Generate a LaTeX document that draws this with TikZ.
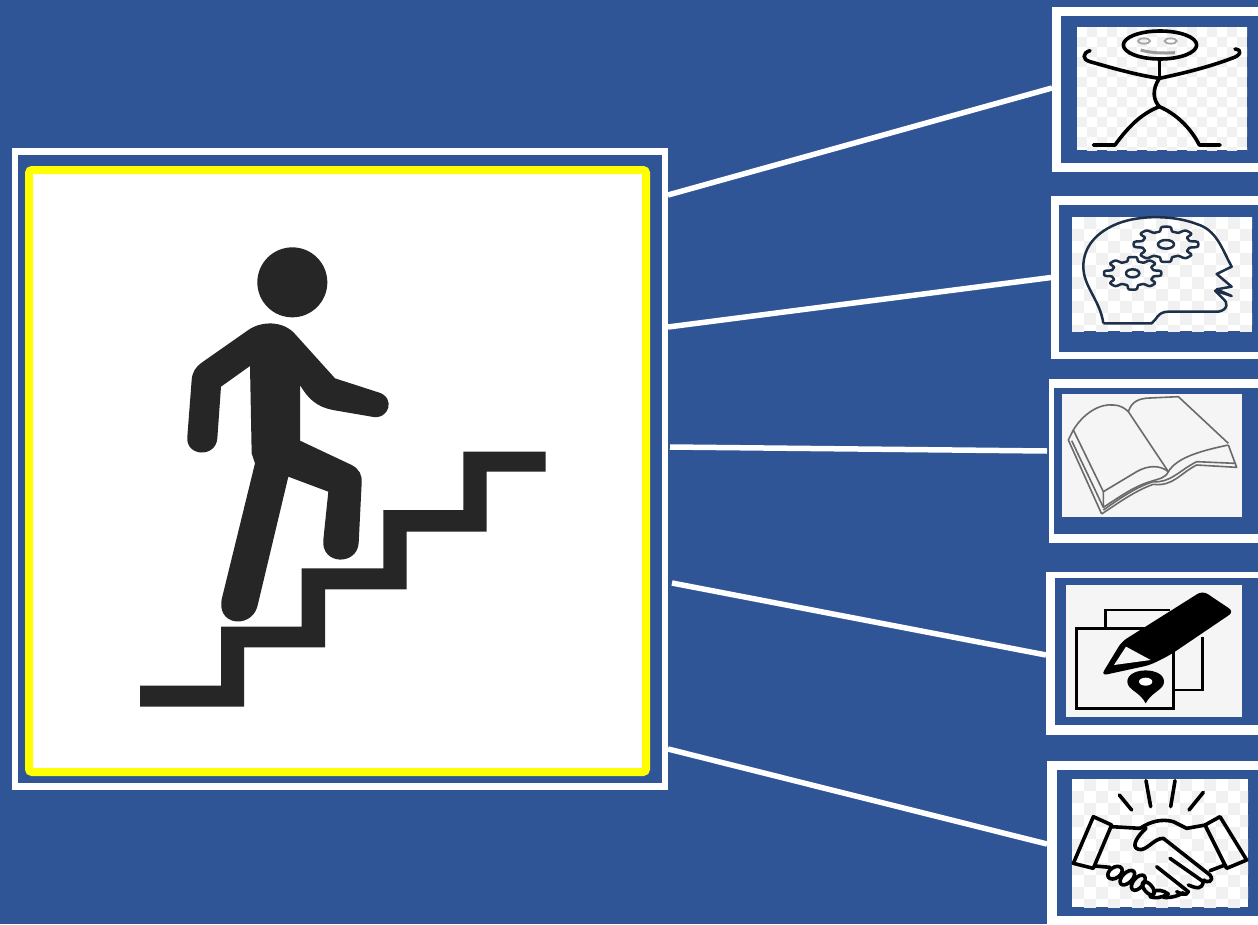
\documentclass[tikz,border=0pt]{standalone}
\definecolor{bgblue}{HTML}{2F5597}
\definecolor{figblack}{HTML}{262626}
\definecolor{chk}{HTML}{F1F1F1}
\definecolor{headline}{HTML}{1E3048}
\definecolor{bookline}{HTML}{6A6A6A}
\definecolor{frameyellow}{RGB}{255,255,0}
\newcommand{\checkfill}[5]{% x0 y0 x1 y1 size (in px)
  \begin{scope}
    \clip (#1pt,-#2pt) rectangle (#3pt,-#4pt);
    \foreach \i in {0,...,45}{\foreach \j in {0,...,32}{
      \pgfmathparse{int(mod(\i+\j,2))}
      \ifnum\pgfmathresult=1
        \fill[chk] ({#1pt+\i*#5pt},{-#2pt-\j*#5pt}) rectangle ++(#5pt,-#5pt);
      \fi
    }}
  \end{scope}}
\tikzset{
  frameW/.style={fill=white,draw=none,rectangle,inner sep=0pt,outer sep=0pt,anchor=north west},
  frameB/.style={fill=bgblue,draw=none,rectangle,inner sep=0pt,outer sep=0pt,anchor=north west},
  frameI/.style={fill=white,draw=none,rectangle,inner sep=0pt,outer sep=0pt,anchor=north west},
  conn/.style={draw=white,line width=5.5pt},
  zoomA/.style={shift={(1040pt,0pt)},x=0.33333pt,y=-0.33333pt},
  zoomB/.style={shift={(1040pt,-370pt)},x=0.33333pt,y=-0.33333pt},
  zoomC/.style={shift={(1040pt,-750pt)},x=0.33333pt,y=-0.33333pt},
  zoomM/.style={shift={(120pt,-230pt)},x=0.33333pt,y=-0.33333pt},
  stick/.style={draw=black,line width=3.6pt,line cap=round,line join=round},
  headstroke/.style={draw=headline,line width=2.5pt,line join=round},
  bookstroke/.style={draw=bookline,line width=1.6pt,line join=round},
  shake/.style={draw=black,line width=3.6pt,line join=round,line cap=round},
}
\begin{document}
\begin{tikzpicture}[x=1pt,y=1pt]
\useasboundingbox (0,0) rectangle (1258,-924);
\clip (0,0) rectangle (1258,-924);
\fill[bgblue] (0,0) rectangle (1258,-924);

% main panel
\node[frameW,minimum width=656.5pt,minimum height=642pt] (main) at (11.5,-148) {};
\node[frameB,minimum width=644pt,minimum height=628pt] (mainblue) at (18,-155) {};
\node[frameI,draw=frameyellow,line width=8pt,rounded corners=3pt,minimum width=617pt,minimum height=602pt] (mainimg) at (29,-170) {};

% small panels
\node[frameW,minimum width=240pt,minimum height=165pt] (p1) at (1052,-7) {};
\node[frameB,minimum width=230pt,minimum height=147pt] (p1b) at (1061,-16) {};
\node[frameI,minimum width=170pt,minimum height=123pt] (p1i) at (1077,-27) {};
\node[frameW,minimum width=240pt,minimum height=163pt] (p2) at (1051,-196) {};
\node[frameB,minimum width=230pt,minimum height=147pt] (p2b) at (1059,-205) {};
\node[frameI,minimum width=180pt,minimum height=114pt] (p2i) at (1072,-217) {};
\node[frameW,minimum width=240pt,minimum height=164pt] (p3) at (1049,-379) {};
\node[frameB,minimum width=230pt,minimum height=146pt] (p3b) at (1054,-388) {};
\node[frameI,fill=black!4,minimum width=180pt,minimum height=123pt] (p3i) at (1062,-394) {};
\node[frameW,minimum width=240pt,minimum height=163pt] (p4) at (1046,-572) {};
\node[frameB,minimum width=230pt,minimum height=147pt] (p4b) at (1055,-578) {};
\node[frameI,fill=black!4,minimum width=176pt,minimum height=132pt] (p4i) at (1066,-585) {};
\node[frameW,minimum width=240pt,minimum height=166pt] (p5) at (1047,-761) {};
\node[frameB,minimum width=230pt,minimum height=146pt] (p5b) at (1057,-770) {};
\node[frameI,minimum width=176pt,minimum height=128pt] (p5i) at (1072,-779) {};

% connectors
\draw[conn] ([yshift=-47pt]main.north east) -- ([yshift=1.5pt]p1.west);
\draw[conn] ([yshift=-179pt]main.north east) -- (p2.west);
\draw[conn] ([xshift=2pt,yshift=-299pt]main.north east) -- ([xshift=-2pt,yshift=10pt]p3.west);
\draw[conn] ([xshift=4pt,yshift=-435pt]main.north east) -- ([yshift=-1.5pt]p4.west);
\draw[conn] ([yshift=-601pt]main.north east) -- (p5.west);

% climbing figure and stairs
\begin{scope}[zoomM]
  \fill[figblack] (517,157) ellipse (105 and 105);
  \fill[figblack] (60,1367) -- (303,1367) -- (303,1190) -- (545,1190) -- (545,1015) -- (790,1015) -- (790,840) -- (1030,840) -- (1030,665) -- (1277,665) -- (1277,725) -- (1100,725) -- (1100,905) -- (860,905) -- (860,1078) -- (615,1078) -- (615,1252) -- (372,1252) -- (372,1430) -- (60,1430) -- cycle;
  \fill[figblack] (390,408) -- (303,470) -- (292,625)
    .. controls (287,685) and (196,680) .. (202,620)
    -- (215,450) .. controls (217,425) and (228,410) .. (245,398)
    -- (385,300) .. controls (425,272) and (490,272) .. (525,312)
    -- (645,445) -- (775,487)
    .. controls (828,502) and (808,572) .. (755,560)
    -- (650,542) .. controls (610,535) and (575,525) .. (540,465)
    -- (540,632) -- (695,705)
    .. controls (718,717) and (727,735) .. (725,760)
    -- (716,940) .. controls (710,1008) and (603,1005) .. (610,930)
    -- (625,785) -- (505,740) -- (412,1130)
    .. controls (393,1198) and (283,1188) .. (307,1100)
    -- (405,700) -- (395,670) -- cycle;
\end{scope}

% icon 1: stick figure
\checkfill{1077}{27}{1247}{150}{10}
\begin{scope}[zoomA]
  \draw[stick] (360,135) ellipse (110 and 42);
  \draw[stick] (358,180) -- (358,235);
  \draw[stick] (150,152) .. controls (128,158) and (125,178) .. (150,185) .. controls (220,205) and (290,225) .. (358,235) .. controls (430,220) and (510,200) .. (575,175) .. controls (600,168) and (610,150) .. (585,147);
  \draw[stick] (358,235) .. controls (335,270) and (340,300) .. (358,320);
  \draw[stick] (160,435) -- (225,435) .. controls (265,380) and (305,340) .. (358,320) .. controls (405,340) and (450,380) .. (478,435) -- (540,435);
  \draw[gray!70,line width=1.8pt] (312,123) ellipse (18 and 8) (392,123) ellipse (18 and 8);
  \draw[gray!80,line width=3pt] (302,150) .. controls (335,160) and (375,160) .. (405,158);
\end{scope}

% icon 2: head with gears
\checkfill{1072}{217}{1252}{331}{12}
\begin{scope}[zoomA]
  \draw[headstroke] (190,970) -- (335,970) .. controls (350,960) and (352,935) .. (385,935) -- (535,935)
    .. controls (565,930) and (565,905) .. (548,895) -- (525,872) -- (575,888) -- (530,868) -- (575,860) -- (530,822) -- (575,800)
    .. controls (545,745) and (530,690) .. (470,672) .. controls (400,645) and (300,645) .. (235,670)
    .. controls (170,695) and (130,740) .. (130,800) .. controls (130,860) and (180,900) .. (190,970);
  \foreach \cx/\cy/\rx/\ry/\hx/\hy in {378/733/97/53/24/13, 278/820/86/49/20/12}{
    \draw[headstroke] plot[domain=0:360,samples=145,smooth]
      ({\cx+\rx*(0.87+0.13*tanh(3*cos(8*\x)))*cos(\x)},{\cy+\ry*(0.87+0.13*tanh(3*cos(8*\x)))*sin(\x)}) -- cycle;
    \draw[headstroke] (\cx,\cy) ellipse ({\hx} and {\hy});
  }
\end{scope}

% icon 3: open book
\begin{scope}[zoomB]
  \draw[bookstroke] (100,180) .. controls (130,130) and (180,100) .. (220,105) .. controls (240,105) and (255,115) .. (265,125) -- (385,305);
  \draw[bookstroke] (265,125) .. controls (275,95) and (295,85) .. (330,84) -- (415,80) -- (565,220);
  \draw[bookstroke] (385,305) .. controls (410,265) and (470,245) .. (565,225);
  \draw[bookstroke] (385,305) .. controls (360,285) and (325,285) .. (290,305) -- (190,365) -- (100,180) -- (85,210) -- (185,432);
  \draw[bookstroke] (190,365) -- (190,412) .. controls (240,380) and (280,350) .. (330,335) .. controls (360,325) and (375,325) .. (385,305);
  \draw[bookstroke] (95,212) -- (190,412);
  \draw[bookstroke] (185,432) .. controls (240,395) and (290,360) .. (340,343) .. controls (400,350) and (420,310) .. (470,285) -- (590,292) -- (565,225);
  \draw[bookstroke] (190,420) .. controls (240,385) and (290,350) .. (340,335) .. controls (390,340) and (420,300) .. (470,275) -- (585,280);
\end{scope}

% icon 4: pencil, sheets and pin
\begin{scope}[zoomB]
  \draw[black,line width=2.8pt] (197,775) -- (197,720) -- (390,720);
  \draw[black,line width=2.8pt] (487,800) -- (487,960) -- (400,960);
  \draw[black,line width=3pt] (110,775) rectangle (400,1015);
  \fill[black,rounded corners=6pt] (183,917) -- (245,815) -- (488,662) -- (582,725) -- (390,855) -- (330,885) -- cycle;
  \fill[black!4] (222,885) -- (258,830) -- (332,870) -- cycle;
  \fill[black] (262,935) .. controls (262,890) and (372,890) .. (372,935) .. controls (372,960) and (335,965) .. (317,1000) .. controls (300,965) and (262,960) .. (262,935) -- cycle;
  \fill[white] (317,935) ellipse (20 and 12);
\end{scope}

% icon 5: handshake
\checkfill{1072}{779}{1248}{907}{12}
\begin{scope}[zoomC]
  \draw[shake] (318,92) -- (332,170) (405,92) -- (392,170) (238,135) -- (275,180) (490,127) -- (447,180);
  \draw[shake] (160,200) -- (215,225) -- (160,355) -- (100,340) -- cycle;
  \draw[shake] (540,200) -- (495,225) -- (560,355) -- (620,330) -- cycle;
  \draw[shake] (215,230) -- (300,235) .. controls (330,215) and (365,205) .. (400,215) -- (440,235) -- (497,225);
  \draw[shake] (318,235) .. controls (295,255) and (270,290) .. (295,298) .. controls (320,305) and (340,265) .. (370,265) -- (510,375) .. controls (525,395) and (500,400) .. (490,390);
  \draw[shake] (555,345) -- (510,362);
  \draw[shake] (350,350) -- (445,425) .. controls (440,440) and (420,430) .. (410,425);
  \draw[shake] (390,325) -- (490,395) .. controls (485,420) and (470,415) .. (445,405);
  \draw[shake] (165,348) -- (210,352);
  \draw[shake] (370,442) .. controls (395,445) and (420,435) .. (430,428);
  \draw[shake,rotate around={35:(225,368)}] (225,368) ellipse (24 and 16);
  \draw[shake,rotate around={45:(262,383)}] (262,383) ellipse (27 and 15);
  \draw[shake,rotate around={50:(295,398)}] (295,398) ellipse (27 and 15);
  \draw[shake,rotate around={-50:(325,415)}] (325,415) ellipse (24 and 12);
  \draw[shake] (330,440) .. controls (345,445) and (360,445) .. (385,432) .. controls (370,420) and (350,418) .. (340,425);
\end{scope}
\end{tikzpicture}
\end{document}
